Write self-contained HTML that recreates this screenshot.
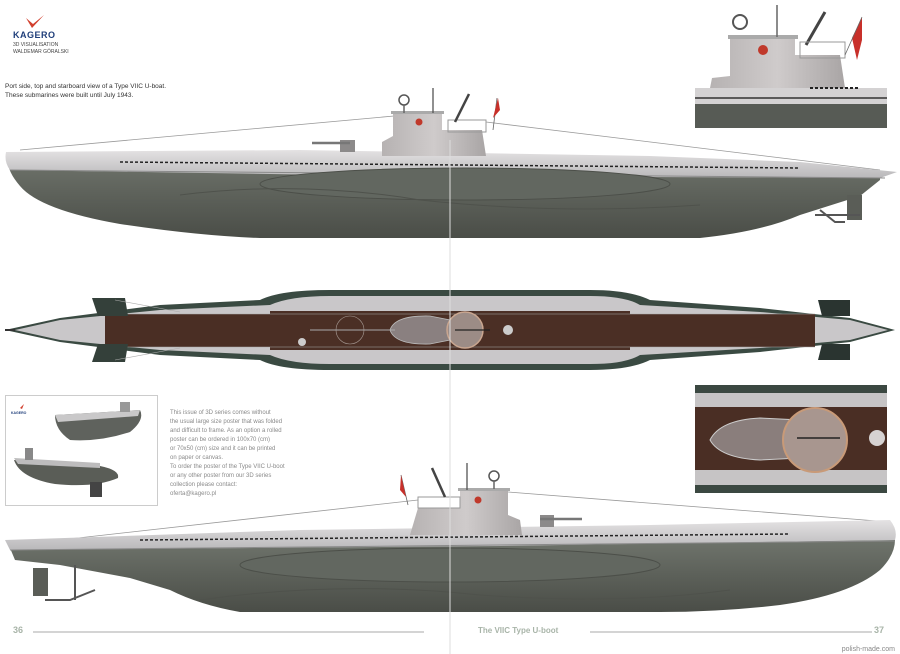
<!DOCTYPE html>
<html><head><meta charset="utf-8">
<style>
html,body{margin:0;padding:0;background:#fff;}
svg{display:block;font-family:"Liberation Sans",sans-serif;}
</style></head>
<body>
<svg width="900" height="654" viewBox="0 0 900 654" xmlns="http://www.w3.org/2000/svg">
<defs>
<linearGradient id="hull" x1="0" y1="0" x2="0" y2="1">
<stop offset="0" stop-color="#6f746c"/><stop offset="0.5" stop-color="#5c6059"/><stop offset="1" stop-color="#4a4d47"/>
</linearGradient>
<linearGradient id="deck" x1="0" y1="0" x2="0" y2="1">
<stop offset="0" stop-color="#e4e2e3"/><stop offset="1" stop-color="#b9b8ba"/>
</linearGradient>
<linearGradient id="tower" x1="0" y1="0" x2="1" y2="0">
<stop offset="0" stop-color="#b6b2b2"/><stop offset="0.5" stop-color="#cfcbcb"/><stop offset="1" stop-color="#a9a5a5"/>
</linearGradient>
</defs>

<!-- Header -->
<path d="M26 18 L32 28 L44 15 L33 24 Z" fill="#d2402e"/>
<text x="13" y="38" font-size="9" font-weight="bold" fill="#1f3e7a" letter-spacing="0.5">KAGERO</text>
<text x="13" y="46" font-size="5" fill="#444">3D VISUALISATION</text>
<text x="13" y="53" font-size="5" fill="#444">WALDEMAR GÓRALSKI</text>
<text x="5" y="88" font-size="6.5" fill="#333">Port side, top and starboard view of a Type VIIC U-boat.</text>
<text x="5" y="97" font-size="6.5" fill="#333">These submarines were built until July 1943.</text>

<!-- ============ TOP SIDE VIEW ============ -->
<g>
<line x1="20" y1="150" x2="394" y2="116" stroke="#999" stroke-width="0.8"/>
<line x1="486" y1="122" x2="880" y2="170" stroke="#999" stroke-width="0.8"/>
<!-- hull -->
<path d="M8 157 Q6 170 20 186 Q40 210 120 224 Q200 236 260 238 L700 238 Q760 232 800 215 L860 196 L880 180 L880 172 L12 168 Z" fill="url(#hull)"/>
<!-- deck band -->
<path d="M6 152 L300 150 L650 156 L800 162 L897 172 L880 178 L400 176 L10 170 Q4 162 6 152Z" fill="url(#deck)"/>
<line x1="10" y1="170" x2="885" y2="178" stroke="#8a8a8a" stroke-width="1"/>
<!-- dashed holes -->
<line x1="120" y1="162" x2="800" y2="168" stroke="#222" stroke-width="1.5" stroke-dasharray="3 2"/>
<!-- saddle tank -->
<ellipse cx="465" cy="184" rx="205" ry="16" fill="#626760" stroke="#4c4f49" stroke-width="1"/>
<path d="M180 195 Q300 180 420 200 Q560 215 700 205" fill="none" stroke="#4f524c" stroke-width="1"/>
<!-- stern gear -->
<rect x="847" y="195" width="15" height="25" fill="#5a5d57"/>
<path d="M815 215 L860 215 M820 210 L835 222 L845 222" stroke="#555" stroke-width="2" fill="none"/>
<!-- gun -->
<rect x="340" y="140" width="15" height="12" fill="#8c8a8a"/>
<line x1="312" y1="143" x2="350" y2="143" stroke="#777" stroke-width="2.5"/>
<!-- conning tower -->
<path d="M382 156 L382 142 L393 136 L393 113 L442 113 L442 130 L482 130 L486 156 Z" fill="url(#tower)"/>
<rect x="391" y="111" width="53" height="3" fill="#aaa"/>
<path d="M448 120 L486 120 L486 132 L448 132Z" fill="none" stroke="#999" stroke-width="1"/>
<circle cx="419" cy="122" r="3.5" fill="#c0392b"/>
<circle cx="404" cy="100" r="5" fill="none" stroke="#555" stroke-width="1.5"/>
<line x1="404" y1="105" x2="404" y2="113" stroke="#666" stroke-width="1.5"/>
<line x1="433" y1="88" x2="433" y2="113" stroke="#555" stroke-width="1.3"/>
<line x1="455" y1="122" x2="469" y2="94" stroke="#444" stroke-width="2.5"/>
<line x1="497" y1="98" x2="493" y2="130" stroke="#666" stroke-width="0.8"/>
<path d="M498 98 L493 118 L500 110 Z" fill="#c8302a"/>
</g>

<!-- ============ TOP-DOWN VIEW ============ -->
<g>
<path d="M5 330 L60 318 L160 305 L260 300 Q280 290 330 290 L590 290 Q630 290 650 300 L760 308 L850 318 L895 330 L850 342 L760 352 L650 360 Q630 370 590 370 L330 370 Q280 370 260 360 L160 355 L60 342 Z" fill="#3a4a42"/>
<path d="M15 330 L60 320 L160 310 L270 305 Q290 296 330 296 L590 296 Q625 296 640 305 L760 312 L850 320 L888 330 L850 340 L760 348 L640 355 Q625 364 590 364 L330 364 Q290 364 270 355 L160 350 L60 340 Z" fill="#c9c7c9"/>
<rect x="105" y="314" width="710" height="33" fill="#4a2e24"/>
<rect x="270" y="311" width="360" height="39" fill="#4b2f25"/>
<line x1="105" y1="314" x2="815" y2="314" stroke="#aaa" stroke-width="0.6"/>
<line x1="105" y1="347" x2="815" y2="347" stroke="#aaa" stroke-width="0.6"/>
<path d="M390 330 Q395 315 430 316 L450 320 L450 340 L430 344 Q395 345 390 330Z" fill="#8a8080" stroke="#bbb" stroke-width="0.8"/>
<circle cx="465" cy="330" r="18" fill="#9c8c86" stroke="#c9a690" stroke-width="1.5"/>
<circle cx="350" cy="330" r="14" fill="none" stroke="#a89c96" stroke-width="0.6"/>
<line x1="310" y1="330" x2="395" y2="330" stroke="#aaa" stroke-width="1"/>
<line x1="455" y1="330" x2="490" y2="330" stroke="#222" stroke-width="1.2"/>
<circle cx="302" cy="342" r="4" fill="#ccc"/>
<circle cx="508" cy="330" r="5" fill="#ccc"/>
<!-- planes -->
<path d="M92 298 L125 298 L128 316 L98 316 Z" fill="#34403a"/>
<path d="M92 362 L125 362 L128 344 L98 344 Z" fill="#34403a"/>
<path d="M818 300 L850 300 L850 316 L822 316 Z" fill="#2a3430"/>
<path d="M818 360 L850 360 L850 344 L822 344 Z" fill="#2a3430"/>
<line x1="115" y1="300" x2="180" y2="312" stroke="#aaa" stroke-width="0.6"/>
<line x1="115" y1="360" x2="180" y2="348" stroke="#aaa" stroke-width="0.6"/>
<line x1="5" y1="330" x2="15" y2="330" stroke="#333" stroke-width="2"/>
</g>

<!-- ============ BOTTOM SIDE VIEW ============ -->
<g>
<line x1="60" y1="540" x2="418" y2="500" stroke="#999" stroke-width="0.8"/>
<line x1="508" y1="492" x2="890" y2="522" stroke="#999" stroke-width="0.8"/>
<path d="M10 548 L895 540 Q895 555 880 570 Q850 595 780 605 Q720 612 660 612 L240 612 Q200 605 170 590 L130 578 L60 565 L15 560 Z" fill="url(#hull)"/>
<path d="M5 540 L300 530 L650 525 L890 520 Q898 530 895 540 L500 546 L10 550 Z" fill="url(#deck)"/>
<line x1="10" y1="550" x2="895" y2="541" stroke="#8a8a8a" stroke-width="1"/>
<line x1="140" y1="540" x2="790" y2="534" stroke="#222" stroke-width="1.5" stroke-dasharray="3 2"/>
<ellipse cx="450" cy="565" rx="210" ry="17" fill="#626760" stroke="#4c4f49" stroke-width="1"/>
<path d="M200 600 Q340 580 480 595 Q620 605 730 590" fill="none" stroke="#4f524c" stroke-width="1"/>
<rect x="33" y="568" width="15" height="28" fill="#5a5d57"/>
<path d="M45 600 L70 600 L95 590 M75 565 L75 600" stroke="#555" stroke-width="2" fill="none"/>
<!-- gun -->
<rect x="540" y="515" width="14" height="12" fill="#8c8a8a"/>
<line x1="540" y1="519" x2="582" y2="519" stroke="#777" stroke-width="2.5"/>
<!-- tower -->
<path d="M410 535 L418 508 L460 508 L460 490 L508 490 L508 515 L520 520 L522 535 Z" fill="url(#tower)"/>
<rect x="458" y="488" width="52" height="3" fill="#aaa"/>
<path d="M418 497 L460 497 L460 508 L418 508Z" fill="none" stroke="#999" stroke-width="1"/>
<circle cx="478" cy="500" r="3.5" fill="#c0392b"/>
<circle cx="494" cy="476" r="5" fill="none" stroke="#555" stroke-width="1.5"/>
<line x1="494" y1="481" x2="494" y2="489" stroke="#666" stroke-width="1.5"/>
<line x1="467" y1="463" x2="467" y2="490" stroke="#555" stroke-width="1.3"/>
<line x1="432" y1="468" x2="445" y2="497" stroke="#444" stroke-width="2.5"/>
<line x1="401" y1="475" x2="408" y2="505" stroke="#666" stroke-width="0.8"/>
<path d="M401 475 L406 497 L400 490 Z" fill="#c8302a"/>
</g>

<!-- ============ INSETS ============ -->
<g>
<rect x="695" y="5" width="192" height="123" fill="#fff"/>
<rect x="695" y="102" width="192" height="26" fill="#575b55"/>
<rect x="695" y="88" width="192" height="16" fill="#d4d2d3"/>
<line x1="695" y1="98" x2="887" y2="98" stroke="#333" stroke-width="1.5"/>
<path d="M710 88 L712 78 L730 76 L730 38 L795 38 L795 55 L840 55 L845 88 Z" fill="url(#tower)"/>
<rect x="728" y="35" width="70" height="4" fill="#aaa"/>
<circle cx="763" cy="50" r="5" fill="#c0392b"/>
<circle cx="740" cy="22" r="7" fill="none" stroke="#555" stroke-width="2"/>
<line x1="777" y1="5" x2="777" y2="37" stroke="#666" stroke-width="1.5"/>
<line x1="806" y1="45" x2="825" y2="12" stroke="#444" stroke-width="3"/>
<path d="M800 42 L845 42 L845 58 L800 58Z" fill="none" stroke="#999" stroke-width="1"/>
<path d="M862 17 L852 38 L857 60 L862 40 Z" fill="#c8302a"/>
<line x1="862" y1="17" x2="845" y2="55" stroke="#666" stroke-width="0.8"/>
<line x1="810" y1="88" x2="860" y2="88" stroke="#222" stroke-width="2" stroke-dasharray="3 2"/>
</g>
<g>
<rect x="695" y="385" width="192" height="108" fill="#4a2e24"/>
<rect x="695" y="385" width="192" height="8" fill="#3b4841"/>
<rect x="695" y="485" width="192" height="8" fill="#3b4841"/>
<rect x="695" y="393" width="192" height="14" fill="#c6c4c5"/>
<rect x="695" y="470" width="192" height="15" fill="#c6c4c5"/>
<path d="M710 440 Q720 420 760 418 L800 420 L800 458 L760 460 Q720 458 710 440Z" fill="#8a7e7c" stroke="#ccc" stroke-width="1"/>
<circle cx="815" cy="440" r="32" fill="#a8968f" stroke="#c89a78" stroke-width="2"/>
<line x1="797" y1="438" x2="840" y2="438" stroke="#222" stroke-width="1.5"/>
<circle cx="877" cy="438" r="8" fill="#d6d2d2"/>
</g>

<!-- bottom-left photo inset -->
<rect x="5.5" y="395.5" width="152" height="110" fill="#fff" stroke="#ccc" stroke-width="1"/>
<path d="M20 408 L24 404 L22 409Z" fill="#d2402e"/>
<text x="11" y="414" font-size="3.5" font-weight="bold" fill="#1f3e7a">KAGERO</text>
<path d="M55 415 L140 410 Q145 420 130 432 Q100 442 70 440 Q55 430 55 415Z" fill="#5f625d"/>
<path d="M55 415 L140 410 L138 416 L58 422Z" fill="#c9c8c9"/>
<rect x="120" y="402" width="10" height="10" fill="#999"/>
<path d="M14 460 L100 466 Q120 470 118 478 Q95 488 55 484 Q20 478 14 460Z" fill="#5a5d57"/>
<path d="M14 458 L100 463 L100 468 L18 464Z" fill="#bdbcbd"/>
<rect x="25" y="448" width="8" height="12" fill="#888"/>
<rect x="90" y="482" width="12" height="15" fill="#444"/>

<g font-size="6" fill="#8a8a8a">
<text x="170" y="414">This issue of 3D series comes without</text>
<text x="170" y="423">the usual large size poster that was folded</text>
<text x="170" y="432">and difficult to frame. As an option a rolled</text>
<text x="170" y="441">poster can be ordered in 100x70 (cm)</text>
<text x="170" y="450">or 70x50 (cm) size and it can be printed</text>
<text x="170" y="459">on paper or canvas.</text>
<text x="170" y="468">To order the poster of the Type VIIC U-boot</text>
<text x="170" y="477">or any other poster from our 3D series</text>
<text x="170" y="486">collection please contact:</text>
<text x="170" y="495">oferta@kagero.pl</text>
</g>

<!-- gutter -->
<line x1="450" y1="140" x2="450" y2="654" stroke="#ddd" stroke-width="1"/>

<!-- footer -->
<text x="13" y="633" font-size="9" font-weight="bold" fill="#a8b4a8">36</text>
<line x1="33" y1="632" x2="424" y2="632" stroke="#aaa" stroke-width="1"/>
<text x="478" y="633" font-size="8" font-weight="bold" fill="#a8b4a8">The VIIC Type U-boot</text>
<line x1="590" y1="632" x2="872" y2="632" stroke="#aaa" stroke-width="1"/>
<text x="874" y="633" font-size="9" font-weight="bold" fill="#a8b4a8">37</text>
<text x="895" y="651" font-size="7" fill="#888" text-anchor="end">polish-made.com</text>
</svg>
</body></html>
